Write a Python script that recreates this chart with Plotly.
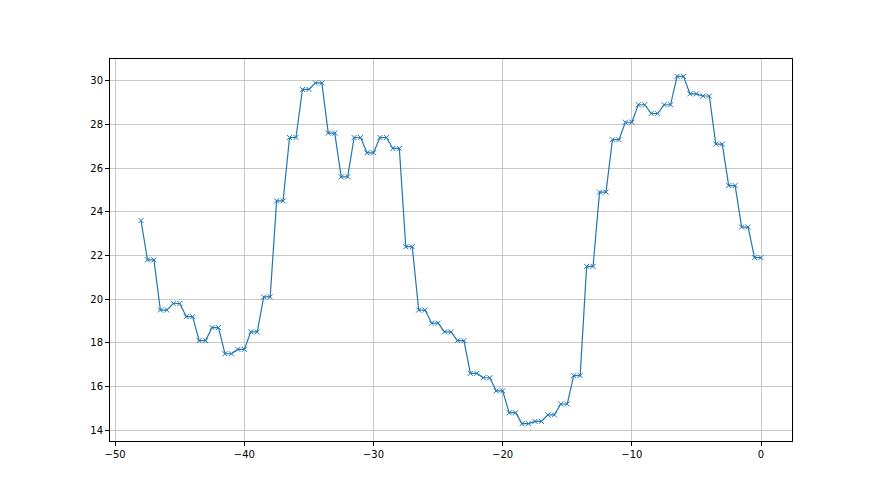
import numpy as np
import plotly.graph_objects as go

first_x = -48.0
first_y = 23.6
pair_values = [21.8, 19.5, 19.8, 19.2, 18.1, 18.7, 17.5, 17.7, 18.5, 20.1,
               24.5, 27.4, 29.6, 29.9, 27.6, 25.6, 27.4, 26.7, 27.4, 26.9,
               22.4, 19.5, 18.9, 18.5, 18.1, 16.6, 16.4, 15.8, 14.8, 14.3,
               14.4, 14.7, 15.2, 16.5, 21.5, 24.9, 27.3, 28.1, 28.9, 28.5,
               28.9, 30.2, 29.4, 29.3, 27.1, 25.2, 23.3, 21.9]
pair_starts = [-47.5 + i for i in range(len(pair_values))]

x = [first_x]
y = [first_y]
for s, v in zip(pair_starts, pair_values):
    x += [s, s + 0.5]
    y += [v, v]

x_ticks = [-50, -40, -30, -20, -10, 0]
y_ticks = [14, 16, 18, 20, 22, 24, 26, 28, 30]

fig = go.Figure()
fig.add_trace(go.Scatter(
    x=x, y=y, mode="lines+markers",
    line=dict(color="#1f77b4", width=1.2),
    marker=dict(symbol="x-thin", size=5, line=dict(color="#1f77b4", width=1)),
    showlegend=False,
))

axis_common = dict(
    showline=True, linecolor="black", linewidth=1, mirror=True,
    showgrid=True, gridcolor="#c8c8c8", gridwidth=1,
    ticks="outside", ticklen=4, tickcolor="black",
    tickfont=dict(family="DejaVu Sans", size=10, color="black"),
    zeroline=False,
)
fig.update_xaxes(range=[-50.4, 2.4], tickvals=x_ticks, **axis_common)
fig.update_yaxes(range=[13.505, 30.995], tickvals=y_ticks, **axis_common)

fig.update_layout(
    width=880, height=495,
    margin=dict(l=102, r=96, t=51, b=62),
    paper_bgcolor="white", plot_bgcolor="white",
)
fig.write_html("out.html")
